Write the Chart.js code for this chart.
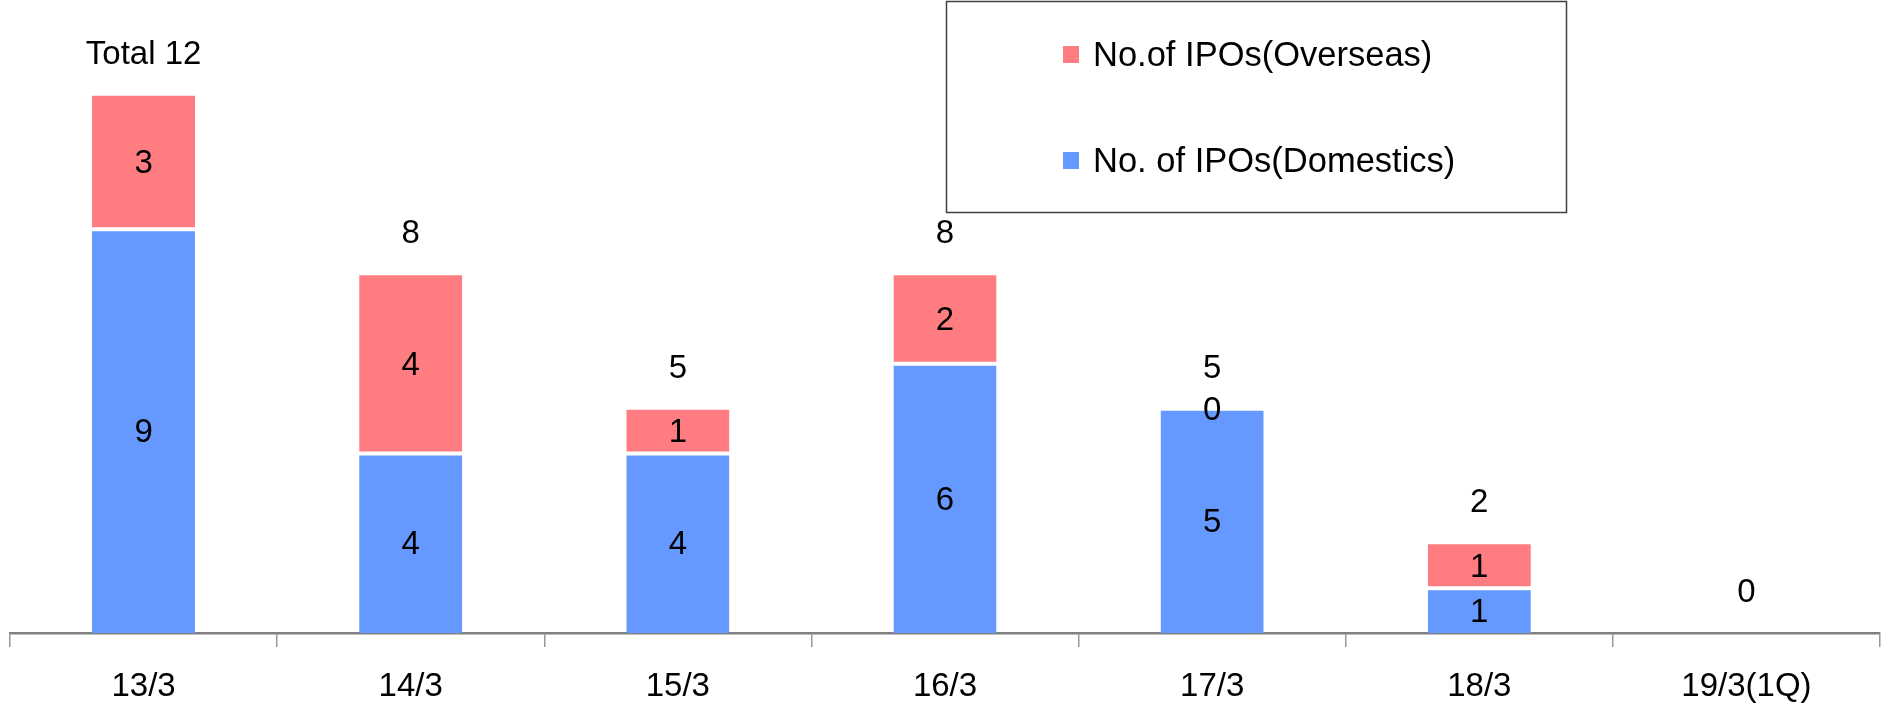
<!DOCTYPE html>
<html>
<head>
<meta charset="utf-8">
<script src="https://cdn.jsdelivr.net/npm/chart.js@4/dist/chart.umd.min.js"></script>
<style>
  html, body { margin: 0; padding: 0; background: #ffffff; }
  #wrap { position: relative; width: 1881px; height: 707px; }
</style>
</head>
<body>
<div id="wrap"><canvas id="c" width="1881" height="707"></canvas></div>
<script>
const categories = ['13/3', '14/3', '15/3', '16/3', '17/3', '18/3', '19/3(1Q)'];
const domestics = [9, 4, 4, 6, 5, 1, null];
const overseas = [3, 4, 1, 2, 0, 1, null];
const totalPrefix = ['Total ', '', '', '', '', '', ''];
const seriesNames = ['No. of IPOs(Domestics)', 'No.of IPOs(Overseas)'];
const seriesColors = ['#6699FF', '#FF7C80'];

const FONT = "'Liberation Sans', Arial, sans-serif";

const labelPlugin = {
  id: 'valueLabels',
  afterDatasetsDraw(chart) {
    const ctx = chart.ctx;
    const yScale = chart.scales.y;
    ctx.save();
    ctx.font = '33px ' + FONT;
    ctx.fillStyle = '#000000';
    ctx.textAlign = 'center';
    ctx.textBaseline = 'middle';
    chart.data.datasets.forEach((ds, d) => {
      const meta = chart.getDatasetMeta(d);
      meta.data.forEach((el, i) => {
        const v = ds.data[i];
        if (v === null || v === undefined) return;
        ctx.fillText(String(v), el.x, (el.y + el.base) / 2 + 2);
      });
    });
    const meta0 = chart.getDatasetMeta(0);
    categories.forEach((c, i) => {
      const total = (domestics[i] || 0) + (overseas[i] || 0);
      const y = yScale.getPixelForValue(total);
      ctx.fillText(totalPrefix[i] + total, meta0.data[i].x, y - 40);
    });
    ctx.restore();
  }
};

const legendPlugin = {
  id: 'boxLegend',
  afterDraw(chart) {
    const ctx = chart.ctx;
    ctx.save();
    ctx.strokeStyle = '#404040';
    ctx.lineWidth = 1.5;
    ctx.strokeRect(946.5, 1.5, 620, 211);
    ctx.font = '34.5px ' + FONT;
    ctx.fillStyle = '#000000';
    ctx.textAlign = 'left';
    ctx.textBaseline = 'middle';
    const order = [1, 0];
    const rowsY = [54, 160];
    order.forEach((d, r) => {
      const ds = chart.data.datasets[d];
      ctx.fillStyle = ds.backgroundColor;
      ctx.fillRect(1063, rowsY[r] - 8, 16, 17);
      ctx.fillStyle = '#000000';
      ctx.fillText(ds.label, 1093, rowsY[r] + 2);
    });
    ctx.restore();
  }
};

new Chart(document.getElementById('c'), {
  type: 'bar',
  data: {
    labels: categories,
    datasets: [
      {
        label: seriesNames[0],
        data: domestics,
        backgroundColor: seriesColors[0],
        borderColor: '#ffffff',
        borderWidth: { top: 2, left: 0, right: 0, bottom: 0 },
        borderSkipped: false,
        barPercentage: 0.386,
        categoryPercentage: 1.0
      },
      {
        label: seriesNames[1],
        data: overseas,
        backgroundColor: seriesColors[1],
        borderColor: '#ffffff',
        borderWidth: { top: 1, left: 0, right: 0, bottom: 2 },
        borderSkipped: false,
        barPercentage: 0.386,
        categoryPercentage: 1.0
      }
    ]
  },
  options: {
    responsive: false,
    animation: false,
    devicePixelRatio: 1,
    layout: { padding: { left: 10, right: 1, top: 5, bottom: 0 } },
    plugins: {
      legend: { display: false },
      tooltip: { enabled: false }
    },
    scales: {
      x: {
        stacked: true,
        afterFit(scale) { scale.height = 74; },
        grid: {
          display: true,
          offset: true,
          drawOnChartArea: false,
          drawTicks: true,
          tickLength: 14,
          color: '#999999',
          lineWidth: 1.5
        },
        border: { display: true, color: '#808080', width: 2.5 },
        ticks: {
          color: '#000000',
          font: { family: FONT, size: 33, lineHeight: 1 },
          padding: 23,
          maxRotation: 0,
          autoSkip: false
        }
      },
      y: {
        stacked: true,
        display: false,
        min: 0,
        max: 14
      }
    }
  },
  plugins: [labelPlugin, legendPlugin]
});
</script>
</body>
</html>
